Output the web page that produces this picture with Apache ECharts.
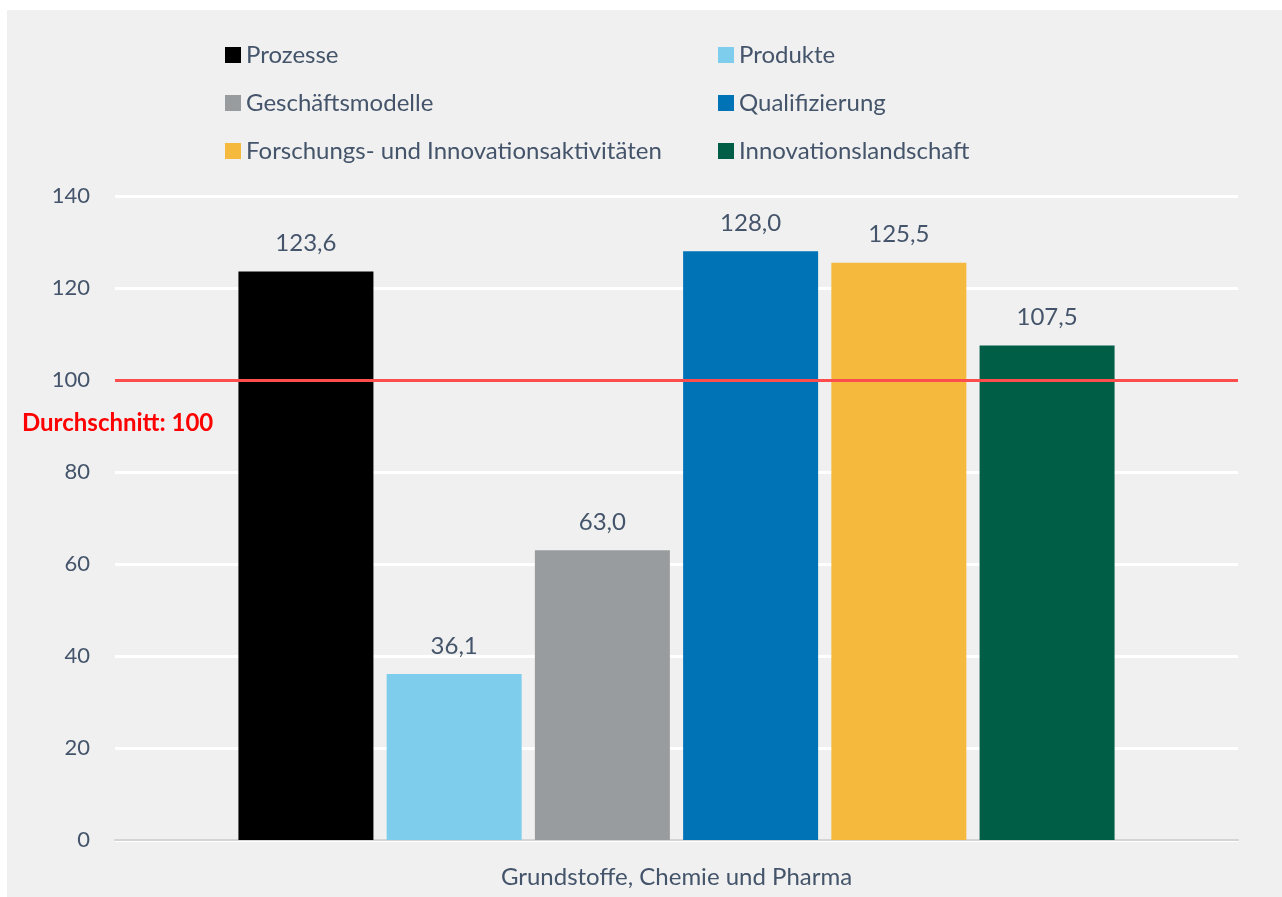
<!DOCTYPE html>
<html>
<head>
<meta charset="utf-8">
<script src="https://cdn.jsdelivr.net/npm/echarts@6/dist/echarts.min.js"></script>
<style>
  html, body { margin: 0; padding: 0; background: #ffffff; }
  #chart { width: 1282px; height: 897px; }
</style>
</head>
<body>
<div id="chart"></div>
<script>
// Innovation index by dimension (average = 100)
const categories = ['Grundstoffe, Chemie und Pharma'];
const seriesNames = [
  'Prozesse',
  'Produkte',
  'Geschäftsmodelle',
  'Qualifizierung',
  'Forschungs- und Innovationsaktivitäten',
  'Innovationslandschaft'
];
const seriesValues = [123.6, 36.1, 63.0, 128.0, 125.5, 107.5];
const seriesColors = ['#000000', '#7fcdec', '#999c9e', '#0073b7', '#f5b93d', '#005e46'];
const averageValue = 100;
const yTicks = { min: 0, max: 140, interval: 20 };

const textColor = '#44546a';
const fontFamily = 'Lato, "Open Sans", sans-serif';

const fmt = v => v.toFixed(1).replace('.', ',');

const series = seriesNames.map((name, i) => {
  const s = {
    name: name,
    type: 'bar',
    data: [seriesValues[i]],
    barWidth: 135,
    barGap: '9.8%',
    itemStyle: { color: seriesColors[i] },
    label: {
      show: true,
      position: 'top',
      distance: 16,
      color: textColor,
      fontSize: 24,
      fontFamily: fontFamily,
      formatter: p => fmt(p.value)
    }
  };
  if (i === 0) {
    s.markLine = {
      silent: true,
      symbol: ['none', 'none'],
      lineStyle: { color: '#ff4d4d', width: 3, type: 'solid' },
      data: [{ yAxis: averageValue }],
      z: 10,
      label: {
        show: true,
        position: 'insideStartBottom',
        distance: 5,
        offset: [-98, 26],
        color: '#ff0000',
        fontWeight: 'bold',
        fontSize: 24,
        fontFamily: fontFamily,
        formatter: p => 'Durchschnitt: ' + p.value
      }
    };
  }
  return s;
});

const chart = echarts.init(document.getElementById('chart'), null, { renderer: 'canvas' });
chart.setOption({
  backgroundColor: '#ffffff',
  animation: false,
  graphic: [{
    type: 'rect',
    z: -10,
    silent: true,
    shape: { x: 7, y: 10, width: 1275, height: 887 },
    style: { fill: '#f0f0f0' }
  }],
  legend: {
    left: 225,
    top: 41,
    padding: 0,
    width: 1000,
    itemWidth: 16,
    itemHeight: 16,
    itemGap: 20,
    icon: 'rect',
    data: seriesNames,
    textStyle: {
      color: textColor,
      fontSize: 24,
      fontFamily: fontFamily,
      width: 452,
      lineHeight: 28
    }
  },
  grid: { left: 115, right: 44, top: 196, bottom: 57, containLabel: false },
  xAxis: {
    type: 'category',
    data: categories,
    axisTick: { show: false },
    axisLine: { show: true, lineStyle: { color: '#d4d4d4', width: 2 } },
    axisLabel: { color: textColor, fontSize: 24, fontFamily: fontFamily, margin: 25 }
  },
  yAxis: {
    type: 'value',
    min: yTicks.min,
    max: yTicks.max,
    interval: yTicks.interval,
    axisLine: { show: false },
    axisTick: { show: false },
    axisLabel: { color: textColor, fontSize: 22, fontFamily: fontFamily, margin: 25 },
    splitLine: { lineStyle: { color: '#ffffff', width: 3 } }
  },
  series: series
});
</script>
</body>
</html>
